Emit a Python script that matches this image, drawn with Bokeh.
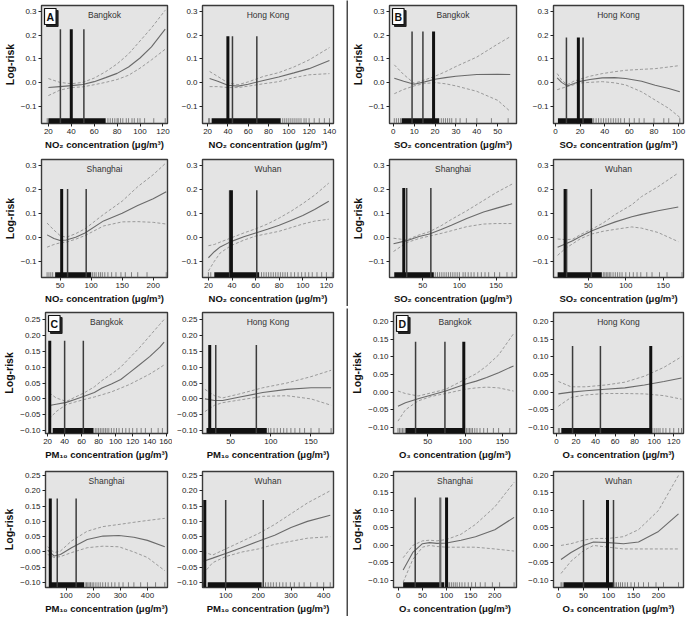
from bokeh.plotting import figure
from bokeh.layouts import row, column
from bokeh.models import Label, FixedTicker, Range1d
from bokeh.embed import file_html
from bokeh.resources import INLINE

# ---------------- tick labels ----------------
ytick_gas = [-0.1, 0.0, 0.1, 0.2, 0.3]
ytick_gas_lab = ["\u22120.1", "0.0", "0.1", "0.2", "0.3"]
ytick_pm = [-0.10, -0.05, 0.0, 0.05, 0.10, 0.15, 0.20, 0.25]
ytick_pm_lab = ["\u22120.10", "\u22120.05", "0.00", "0.05", "0.10", "0.15", "0.20", "0.25"]
ytick_o3 = [-0.10, -0.05, 0.0, 0.05, 0.10, 0.15, 0.20]
ytick_o3_lab = ["\u22120.10", "\u22120.05", "0.00", "0.05", "0.10", "0.15", "0.20"]

# ---------------- NO2 ----------------
no2_bkk_x = [20, 30, 40, 50, 60, 70, 80, 90, 100, 110, 122]
no2_bkk_fit = [-0.022, -0.018, -0.014, -0.009, 0.003, 0.02, 0.038, 0.065, 0.103, 0.15, 0.225]
no2_bkk_hi = [0.016, 0.0, -0.006, 0.0, 0.018, 0.045, 0.078, 0.12, 0.175, 0.23, 0.305]
no2_bkk_lo = [-0.056, -0.033, -0.022, -0.019, -0.01, 0.0, 0.012, 0.03, 0.06, 0.095, 0.14]
no2_bkk_vl = [30.5, 40, 51]
no2_bkk_vtop = 0.225
no2_bkk_dense = [20, 70]
no2_bkk_rug = [19, 72, 74, 76, 78, 80, 81, 83, 85, 88, 90, 93, 95, 98, 100, 104, 112, 122]

no2_hk_x = [22, 30, 40, 50, 60, 75, 90, 105, 120, 140]
no2_hk_fit = [0.016, 0.005, -0.012, -0.016, -0.008, 0.008, 0.023, 0.04, 0.058, 0.092]
no2_hk_hi = [0.046, 0.025, -0.002, -0.01, 0.002, 0.025, 0.041, 0.065, 0.095, 0.147]
no2_hk_lo = [-0.018, -0.018, -0.022, -0.022, -0.016, -0.006, 0.003, 0.02, 0.032, 0.037]
no2_hk_vl = [40, 44.5, 68.5]
no2_hk_vtop = 0.195
no2_hk_dense = [24, 92]
no2_hk_rug = [21, 22, 94, 96, 98, 100, 102, 104, 106, 108, 110, 112, 115, 117, 120, 125, 130, 135, 140]

no2_sh_x = [29, 40, 50, 60, 75, 90, 120, 150, 175, 200, 221]
no2_sh_fit = [0.01, -0.005, -0.013, -0.011, 0.0, 0.018, 0.068, 0.1, 0.132, 0.16, 0.189]
no2_sh_hi = [0.059, 0.03, 0.007, 0.0, 0.015, 0.035, 0.095, 0.15, 0.21, 0.26, 0.31]
no2_sh_lo = [-0.041, -0.03, -0.023, -0.02, -0.008, 0.007, 0.047, 0.064, 0.065, 0.062, 0.055]
no2_sh_vl = [52.5, 62, 92]
no2_sh_vtop = 0.2
no2_sh_dense = [42, 100]
no2_sh_rug = [29, 32, 35, 38, 102, 105, 108, 112, 115, 118, 122, 127, 133, 140, 148, 155, 165, 175, 190, 221]

no2_wh_x = [20, 25, 30, 39, 50, 60, 70, 80, 90, 100, 110, 122]
no2_wh_fit = [-0.085, -0.06, -0.04, -0.018, 0.002, 0.018, 0.033, 0.05, 0.07, 0.09, 0.115, 0.15]
no2_wh_hi = [-0.035, -0.03, -0.02, -0.003, 0.018, 0.035, 0.055, 0.08, 0.108, 0.14, 0.175, 0.225]
no2_wh_lo = [-0.14, -0.1, -0.065, -0.035, -0.012, 0.005, 0.015, 0.025, 0.04, 0.055, 0.067, 0.075]
no2_wh_vl = [38, 39.5, 61]
no2_wh_vtop = 0.195
no2_wh_dense = [25, 63]
no2_wh_rug = [20, 22, 65, 67, 69, 71, 73, 75, 77, 79, 81, 83, 85, 87, 90, 93, 96, 99, 102, 105, 108, 112, 116, 120, 125]

# ---------------- SO2 ----------------
so2_bkk_x = [0.5, 5, 10, 15, 20, 25, 30, 40, 50, 56]
so2_bkk_fit = [0.017, 0.005, -0.008, 0.002, 0.013, 0.02, 0.026, 0.033, 0.034, 0.033]
so2_bkk_hi = [0.074, 0.033, -0.004, 0.01, 0.026, 0.045, 0.067, 0.107, 0.162, 0.193]
so2_bkk_lo = [-0.048, -0.03, -0.015, -0.005, -0.001, -0.006, -0.015, -0.038, -0.076, -0.123]
so2_bkk_vl = [9, 14.2, 19.3]
so2_bkk_vtop = 0.215
so2_bkk_dense = [4, 22]
so2_bkk_rug = [0.5, 1.5, 2.5, 3.5, 23, 24, 25, 26, 27, 28, 30, 32, 35, 40, 47, 55]

so2_hk_x = [1.4, 5, 9.5, 15, 19, 28, 38, 48, 57, 70, 81, 92, 101]
so2_hk_fit = [0.019, 0.0, -0.015, -0.005, 0.003, 0.012, 0.019, 0.02, 0.016, 0.005, -0.012, -0.026, -0.04]
so2_hk_hi = [0.037, 0.01, -0.01, 0.005, 0.012, 0.026, 0.037, 0.045, 0.051, 0.055, 0.058, 0.065, 0.071]
so2_hk_lo = [-0.031, -0.025, -0.018, -0.01, -0.003, 0.0, 0.003, -0.002, -0.011, -0.04, -0.075, -0.11, -0.148]
so2_hk_vl = [8.9, 18.6, 22.4]
so2_hk_vtop = 0.19
so2_hk_dense = [2, 30]
so2_hk_rug = [31, 33, 35, 37, 39, 41, 43, 45, 47, 49, 51, 53, 56, 60, 64, 68, 72, 80, 88, 92, 101]

so2_sh_x = [10, 28, 45, 59, 75, 89, 110, 133, 150, 172]
so2_sh_fit = [-0.027, -0.014, 0.003, 0.014, 0.032, 0.05, 0.078, 0.105, 0.12, 0.139]
so2_sh_hi = [-0.004, -0.011, 0.01, 0.023, 0.048, 0.074, 0.11, 0.153, 0.185, 0.221]
so2_sh_lo = [-0.059, -0.022, -0.005, 0.005, 0.016, 0.027, 0.044, 0.055, 0.057, 0.057]
so2_sh_vl = [24, 28, 61]
so2_sh_vtop = 0.205
so2_sh_dense = [11, 65]
so2_sh_rug = [67, 70, 73, 76, 79, 82, 85, 88, 91, 94, 97, 100, 105, 108, 112, 116, 120, 125, 130, 135, 140, 148, 155, 165, 172]

so2_wh_x = [9, 20, 29, 40, 55, 70, 86, 108, 121, 143, 170]
so2_wh_fit = [-0.041, -0.027, -0.014, 0.004, 0.027, 0.046, 0.064, 0.085, 0.095, 0.11, 0.126]
so2_wh_hi = [-0.007, -0.01, -0.008, 0.012, 0.034, 0.06, 0.095, 0.135, 0.169, 0.21, 0.267]
so2_wh_lo = [-0.075, -0.045, -0.027, -0.005, 0.014, 0.025, 0.033, 0.043, 0.038, 0.02, -0.018]
so2_wh_vl = [19, 21, 54]
so2_wh_vtop = 0.2
so2_wh_dense = [9, 68]
so2_wh_rug = [70, 72, 74, 76, 78, 80, 83, 86, 89, 92, 95, 100, 105, 110, 115, 120, 128, 135, 145, 155, 175]

# ---------------- PM10 ----------------
pm_bkk_x = [22, 30, 42, 52, 63, 75, 84, 95, 106, 116, 127, 140, 152, 157]
pm_bkk_fit = [-0.021, -0.017, -0.011, -0.002, 0.008, 0.02, 0.034, 0.047, 0.061, 0.082, 0.105, 0.133, 0.163, 0.179]
pm_bkk_hi = [0.019, 0.003, -0.008, 0.005, 0.019, 0.038, 0.058, 0.078, 0.1, 0.128, 0.158, 0.198, 0.235, 0.25]
pm_bkk_lo = [-0.063, -0.04, -0.018, -0.01, -0.002, 0.006, 0.013, 0.022, 0.034, 0.045, 0.06, 0.078, 0.098, 0.107]
pm_bkk_vl = [22.5, 40, 62]
pm_bkk_vtop = 0.183
pm_bkk_dense = [26, 74]
pm_bkk_rug = [76, 78, 80, 82, 84, 86, 88, 90, 92, 95, 98, 101, 104, 108, 112, 116, 120, 125, 130, 135, 142, 150, 155]

pm_hk_x = [18, 30, 40, 60, 90, 120, 150, 175]
pm_hk_fit = [0.0, -0.005, -0.005, 0.005, 0.02, 0.03, 0.035, 0.035]
pm_hk_hi = [0.03, 0.01, 0.003, 0.015, 0.035, 0.05, 0.07, 0.09]
pm_hk_lo = [-0.04, -0.02, -0.012, -0.004, 0.008, 0.01, 0.0, -0.02]
pm_hk_vl = [24, 31.5, 82]
pm_hk_vtop = 0.17
pm_hk_dense = [20, 95]
pm_hk_rug = [97, 100, 104, 108, 112, 116, 120, 125, 130, 136, 142, 150, 160, 175]

pm_sh_x = [32, 56, 79, 120, 178, 236, 295, 350, 400, 464]
pm_sh_fit = [0.006, -0.013, -0.008, 0.014, 0.041, 0.052, 0.054, 0.048, 0.038, 0.017]
pm_sh_hi = [0.017, -0.002, 0.003, 0.036, 0.068, 0.083, 0.09, 0.097, 0.103, 0.11]
pm_sh_lo = [-0.008, -0.018, -0.015, -0.002, 0.014, 0.019, 0.017, 0.0, -0.018, -0.061]
pm_sh_vl = [41.7, 67.3, 137]
pm_sh_vtop = 0.175
pm_sh_dense = [38, 166]
pm_sh_rug = [170, 175, 180, 185, 190, 196, 202, 210, 218, 226, 235, 245, 255, 268, 280, 295, 310, 330, 350, 375, 400, 430, 464]

pm_wh_x = [32, 60, 100, 150, 200, 250, 300, 350, 420]
pm_wh_fit = [-0.03, -0.02, -0.005, 0.015, 0.035, 0.055, 0.08, 0.1, 0.12]
pm_wh_hi = [0.0, -0.01, 0.01, 0.035, 0.06, 0.09, 0.125, 0.16, 0.2]
pm_wh_lo = [-0.07, -0.035, -0.015, 0.0, 0.01, 0.025, 0.035, 0.045, 0.05]
pm_wh_vl = [36, 100, 215]
pm_wh_vtop = 0.17
pm_wh_dense = [45, 210]
pm_wh_rug = [32, 38, 215, 222, 230, 238, 246, 255, 265, 275, 285, 298, 310, 325, 340, 360, 380, 400, 420]

# ---------------- O3 ----------------
o3_bkk_x = [10, 20, 37, 55, 74, 100, 115, 129, 145, 165]
o3_bkk_fit = [-0.04, -0.03, -0.019, -0.008, 0.003, 0.022, 0.031, 0.041, 0.055, 0.074]
o3_bkk_hi = [0.003, -0.004, -0.011, -0.002, 0.008, 0.036, 0.052, 0.074, 0.105, 0.165]
o3_bkk_lo = [-0.082, -0.05, -0.025, -0.012, -0.004, 0.008, 0.012, 0.014, 0.012, 0.003]
o3_bkk_vl = [33.6, 73, 98.3]
o3_bkk_vtop = 0.142
o3_bkk_dense = [20, 100]
o3_bkk_rug = [10, 12, 14, 16, 18, 102, 104, 106, 108, 110, 113, 116, 120, 125, 130, 138, 145, 160]

o3_hk_x = [2, 15, 30, 50, 70, 90, 110, 128]
o3_hk_fit = [-0.005, 0.0, 0.004, 0.008, 0.012, 0.02, 0.03, 0.04]
o3_hk_hi = [0.03, 0.015, 0.015, 0.02, 0.028, 0.045, 0.07, 0.1]
o3_hk_lo = [-0.04, -0.015, -0.008, -0.004, -0.004, -0.005, -0.01, -0.02]
o3_hk_vl = [16.5, 45, 96.5]
o3_hk_vtop = 0.13
o3_hk_dense = [5, 98]
o3_hk_rug = [2, 3, 100, 102, 104, 106, 109, 112, 116, 120, 125, 128]

o3_sh_x = [10, 30, 50, 65, 80, 100, 130, 160, 200, 240]
o3_sh_fit = [-0.07, -0.02, 0.005, 0.008, 0.006, 0.007, 0.015, 0.025, 0.045, 0.08]
o3_sh_hi = [-0.035, 0.0, 0.013, 0.015, 0.013, 0.017, 0.032, 0.06, 0.11, 0.18]
o3_sh_lo = [-0.105, -0.04, -0.005, 0.0, -0.003, -0.005, -0.005, -0.005, -0.01, -0.016]
o3_sh_vl = [35, 87, 100]
o3_sh_vtop = 0.137
o3_sh_dense = [10, 95]
o3_sh_rug = [97, 100, 103, 106, 110, 114, 118, 122, 127, 132, 138, 145, 152, 160, 170, 180, 195, 210, 240]

o3_wh_x = [5, 25, 50, 70, 100, 130, 160, 200, 240]
o3_wh_fit = [-0.04, -0.02, 0.0, 0.01, 0.008, 0.005, 0.01, 0.04, 0.09]
o3_wh_hi = [0.0, 0.005, 0.015, 0.02, 0.02, 0.025, 0.045, 0.1, 0.2]
o3_wh_lo = [-0.08, -0.045, -0.015, 0.0, -0.005, -0.01, -0.01, -0.01, -0.01]
o3_wh_vl = [50, 98, 110]
o3_wh_vtop = 0.13
o3_wh_dense = [10, 110]
o3_wh_rug = [5, 7, 113, 116, 120, 124, 128, 133, 138, 145, 152, 160, 170, 180, 195, 210, 240]

# ---------------- style / layout ----------------
FONT = "Liberation Sans"
BG = "#e4e4e4"
SEP = "#4a4a4a"
COL_W = [172, 174, 172, 168]
COL_LR = [(36, 5), (30, 13), (32, 4), (33, 5)]
ROW_H = [152, 154, 154, 154]
ROW_TB = [(5, 26), (7, 28), (4, 28), (9, 28)]

gas_y1 = (-0.174, 0.325)
gas_y2 = (-0.167, 0.323)
pm_y1 = (-0.109, 0.272)
pm_y2 = (-0.116, 0.263)
o3_y1 = (-0.117, 0.225)
o3_y2 = (-0.12, 0.211)

NO2_T = "NO\u2082 concentration (\u03bcg/m\u00b3)"
SO2_T = "SO\u2082 concentration (\u03bcg/m\u00b3)"
PM_T = "PM\u2081\u2080 concentration (\u03bcg/m\u00b3)"
O3_T = "O\u2083 concentration (\u03bcg/m\u00b3)"


def make_panel(col, rw, city, xr, xt, yr, yt, ylab, xs, fit, hi, lo, vl, vtop, dense, rug,
               bold_idx, xtitle, letter=None, show_ylabel=False, gray_idx=None):
    L, R = COL_LR[col]
    T, B = ROW_TB[rw]
    p = figure(width=COL_W[col], height=ROW_H[rw], output_backend="svg", toolbar_location=None,
               x_range=Range1d(*xr), y_range=Range1d(*yr),
               min_border_left=L, min_border_right=R, min_border_top=T, min_border_bottom=B,
               background_fill_color=BG, border_fill_color="white")
    p.outline_line_color = "#3a3a3a"
    p.outline_line_width = 1.4
    p.grid.visible = False
    for ax in (p.xaxis[0], p.yaxis[0]):
        ax.axis_line_color = None
        ax.major_tick_line_color = "#222"
        ax.major_tick_out = 3
        ax.major_tick_in = 0
        ax.minor_tick_line_color = None
        ax.major_label_text_font = FONT
        ax.major_label_text_font_size = "8px"
        ax.major_label_text_color = "#222"
        ax.major_label_standoff = 2
        ax.axis_label_text_font = FONT
        ax.axis_label_text_font_style = "bold"
        ax.axis_label_text_color = "#111"
        ax.axis_label_standoff = 2
    p.xaxis.ticker = FixedTicker(ticks=xt)
    p.yaxis.ticker = FixedTicker(ticks=yt)
    p.yaxis.major_label_overrides = {t: s for t, s in zip(yt, ylab)}
    p.xaxis.axis_label = xtitle
    p.xaxis.axis_label_text_font_size = "9.5px"
    if show_ylabel:
        p.yaxis.axis_label = "Log-risk"
        p.yaxis.axis_label_text_font_size = "10.5px"

    y0 = yr[0]
    rh = 0.045 * (yr[1] - yr[0])
    # rug
    p.quad(left=[dense[0]], right=[dense[1]], bottom=[y0], top=[y0 + rh], fill_color="#111", line_color=None)
    p.segment(x0=rug, y0=[y0] * len(rug), x1=rug, y1=[y0 + rh] * len(rug), line_color="#666", line_width=0.8)
    # curves
    p.line(xs, hi, line_color="#9a9a9a", line_width=1, line_dash="3 2")
    p.line(xs, lo, line_color="#9a9a9a", line_width=1, line_dash="3 2")
    p.line(xs, fit, line_color="#6a6a6a", line_width=1.1)
    # vertical lines
    widths = [1.5] * len(vl)
    colors = ["#3c3c3c"] * len(vl)
    widths[bold_idx] = 3
    colors[bold_idx] = "#111"
    if gray_idx is not None:
        widths[gray_idx] = 2.2
        colors[gray_idx] = "#6a6a6a"
    p.segment(x0=vl, y0=[y0] * len(vl), x1=vl, y1=[vtop] * len(vl), line_color=colors, line_width=widths)
    # city
    p.add_layout(Label(x=(xr[0] + xr[1]) / 2, y=yr[1], y_offset=-4, text=city, text_align="center",
                       text_baseline="top", text_font=FONT, text_font_size="8.5px", text_color="#333"))
    if letter:
        p.add_layout(Label(x=xr[0], y=yr[1], x_offset=5, y_offset=-5, text=letter, text_align="left",
                           text_baseline="top", text_font=FONT, text_font_size="10.5px",
                           text_font_style="bold", text_color="#222", background_fill_color="#222",
                           border_line_color="#222", padding=2))
        p.add_layout(Label(x=xr[0], y=yr[1], x_offset=3, y_offset=-3, text=letter, text_align="left",
                           text_baseline="top", text_font=FONT, text_font_size="10.5px",
                           text_font_style="bold", text_color="#111", background_fill_color="white",
                           border_line_color="#111", border_line_width=1.2, padding=2))
    return p


def separator(w, h):
    s = figure(width=w, height=h, output_backend="svg", toolbar_location=None,
               x_axis_type=None, y_axis_type=None, min_border=0,
               background_fill_color=SEP, border_fill_color=SEP)
    s.outline_line_color = None
    s.grid.visible = False
    return s


# quadrant A : NO2
a1 = make_panel(0, 0, "Bangkok", (14, 124), [20, 40, 60, 80, 100, 120], gas_y1, ytick_gas, ytick_gas_lab,
                no2_bkk_x, no2_bkk_fit, no2_bkk_hi, no2_bkk_lo, no2_bkk_vl, no2_bkk_vtop, no2_bkk_dense, no2_bkk_rug,
                1, NO2_T, letter="A", show_ylabel=True)
a2 = make_panel(1, 0, "Hong Kong", (15, 144), [20, 40, 60, 80, 100, 120, 140], gas_y1, ytick_gas, ytick_gas_lab,
                no2_hk_x, no2_hk_fit, no2_hk_hi, no2_hk_lo, no2_hk_vl, no2_hk_vtop, no2_hk_dense, no2_hk_rug,
                0, NO2_T)
a3 = make_panel(0, 1, "Shanghai", (20, 223), [50, 100, 150, 200], gas_y2, ytick_gas, ytick_gas_lab,
                no2_sh_x, no2_sh_fit, no2_sh_hi, no2_sh_lo, no2_sh_vl, no2_sh_vtop, no2_sh_dense, no2_sh_rug,
                0, NO2_T, show_ylabel=True)
a4 = make_panel(1, 1, "Wuhan", (15, 126), [20, 40, 60, 80, 100, 120], gas_y2, ytick_gas, ytick_gas_lab,
                no2_wh_x, no2_wh_fit, no2_wh_hi, no2_wh_lo, no2_wh_vl, no2_wh_vtop, no2_wh_dense, no2_wh_rug,
                1, NO2_T)
# quadrant B : SO2
b1 = make_panel(2, 0, "Bangkok", (-1.8, 59), [0, 10, 20, 30, 40, 50], gas_y1, ytick_gas, ytick_gas_lab,
                so2_bkk_x, so2_bkk_fit, so2_bkk_hi, so2_bkk_lo, so2_bkk_vl, so2_bkk_vtop, so2_bkk_dense, so2_bkk_rug,
                2, SO2_T, letter="B", show_ylabel=True)
b2 = make_panel(3, 0, "Hong Kong", (-1.6, 104), [0, 20, 40, 60, 80, 100], gas_y1, ytick_gas, ytick_gas_lab,
                so2_hk_x, so2_hk_fit, so2_hk_hi, so2_hk_lo, so2_hk_vl, so2_hk_vtop, so2_hk_dense, so2_hk_rug,
                1, SO2_T)
b3 = make_panel(2, 1, "Shanghai", (4.5, 178), [50, 100, 150], gas_y2, ytick_gas, ytick_gas_lab,
                so2_sh_x, so2_sh_fit, so2_sh_hi, so2_sh_lo, so2_sh_vl, so2_sh_vtop, so2_sh_dense, so2_sh_rug,
                0, SO2_T, show_ylabel=True)
b4 = make_panel(3, 1, "Wuhan", (3.5, 177), [50, 100, 150], gas_y2, ytick_gas, ytick_gas_lab,
                so2_wh_x, so2_wh_fit, so2_wh_hi, so2_wh_lo, so2_wh_vl, so2_wh_vtop, so2_wh_dense, so2_wh_rug,
                0, SO2_T)
# quadrant C : PM10
c1 = make_panel(0, 2, "Bangkok", (17.5, 161), [20, 40, 60, 80, 100, 120, 140, 160], pm_y1, ytick_pm, ytick_pm_lab,
                pm_bkk_x, pm_bkk_fit, pm_bkk_hi, pm_bkk_lo, pm_bkk_vl, pm_bkk_vtop, pm_bkk_dense, pm_bkk_rug,
                0, PM_T, letter="C", show_ylabel=True)
c2 = make_panel(1, 2, "Hong Kong", (15, 178), [50, 100, 150], pm_y1, ytick_pm, ytick_pm_lab,
                pm_hk_x, pm_hk_fit, pm_hk_hi, pm_hk_lo, pm_hk_vl, pm_hk_vtop, pm_hk_dense, pm_hk_rug,
                0, PM_T)
c3 = make_panel(0, 3, "Shanghai", (24, 474), [100, 200, 300, 400], pm_y2, ytick_pm, ytick_pm_lab,
                pm_sh_x, pm_sh_fit, pm_sh_hi, pm_sh_lo, pm_sh_vl, pm_sh_vtop, pm_sh_dense, pm_sh_rug,
                0, PM_T, show_ylabel=True)
c4 = make_panel(1, 3, "Wuhan", (29, 430), [100, 200, 300, 400], pm_y2, ytick_pm, ytick_pm_lab,
                pm_wh_x, pm_wh_fit, pm_wh_hi, pm_wh_lo, pm_wh_vl, pm_wh_vtop, pm_wh_dense, pm_wh_rug,
                0, PM_T)
# quadrant D : O3
d1 = make_panel(2, 2, "Bangkok", (4, 169), [50, 100, 150], o3_y1, ytick_o3, ytick_o3_lab,
                o3_bkk_x, o3_bkk_fit, o3_bkk_hi, o3_bkk_lo, o3_bkk_vl, o3_bkk_vtop, o3_bkk_dense, o3_bkk_rug,
                2, O3_T, letter="D", show_ylabel=True)
d2 = make_panel(3, 2, "Hong Kong", (-3, 130), [0, 20, 40, 60, 80, 100, 120], o3_y1, ytick_o3, ytick_o3_lab,
                o3_hk_x, o3_hk_fit, o3_hk_hi, o3_hk_lo, o3_hk_vl, o3_hk_vtop, o3_hk_dense, o3_hk_rug,
                2, O3_T)
d3 = make_panel(2, 3, "Shanghai", (-10, 245), [0, 50, 100, 150, 200], o3_y2, ytick_o3, ytick_o3_lab,
                o3_sh_x, o3_sh_fit, o3_sh_hi, o3_sh_lo, o3_sh_vl, o3_sh_vtop, o3_sh_dense, o3_sh_rug,
                2, O3_T, show_ylabel=True, gray_idx=1)
d4 = make_panel(3, 3, "Wuhan", (-10, 250), [0, 50, 100, 150, 200], o3_y2, ytick_o3, ytick_o3_lab,
                o3_wh_x, o3_wh_fit, o3_wh_hi, o3_wh_lo, o3_wh_vl, o3_wh_vtop, o3_wh_dense, o3_wh_rug,
                1, O3_T)

top_h = ROW_H[0] + ROW_H[1]
bot_h = ROW_H[2] + ROW_H[3]
total_w = sum(COL_W) + 2

top = row(column(a1, a3), column(a2, a4), separator(2, top_h), column(b1, b3), column(b2, b4))
bot = row(column(c1, c3), column(c2, c4), separator(2, bot_h), column(d1, d3), column(d2, d4))
layout = column(top, separator(total_w, 2), bot)

open("out.html", "w").write(file_html(layout, INLINE))
